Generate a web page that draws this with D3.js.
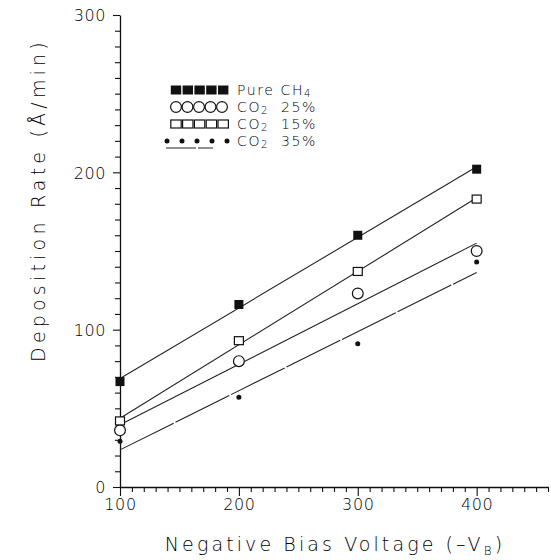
<!DOCTYPE html>
<html>
<head>
<meta charset="utf-8">
<script src="https://cdn.jsdelivr.net/npm/d3@7"></script>
<style>
  html, body { margin: 0; padding: 0; background: #fff; }
  svg { display: block; }
  text { font-family: "DejaVu Sans", sans-serif; font-weight: 200; fill: #000; }
</style>
</head>
<body>
<svg id="chart" width="551" height="560"></svg>
<script>
// Bias voltage (-V_B) at which each film was deposited
const voltage = [100, 200, 300, 400];

// Deposition rate (Å/min) per gas mixture
const pureCH4 = [67, 116, 160, 202];
const co2_25  = [36, 80, 123, 150];
const co2_15  = [42, 93, 137, 183];
const co2_35  = [29, 57, 91, 143];

// Axis ticks
const yMajor = [0, 100, 200, 300];
const xMajor = [100, 200, 300, 400];

// Legend entries (label, subscript, suffix)
const legendLabels = [
  { main: "Pure  CH", sub: "4", rest: "" },
  { main: "CO", sub: "2", rest: "  25%" },
  { main: "CO", sub: "2", rest: "  15%" },
  { main: "CO", sub: "2", rest: "  35%" }
];

const svg = d3.select("#chart");
const x = d3.scaleLinear().domain([100, 460]).range([120, 548]);
const y = d3.scaleLinear().domain([0, 300]).range([487, 15]);

const ink = "#111";

// ---- Y axis ----
const yAxis = d3.axisLeft(y)
  .tickValues(d3.range(0, 301, 10))
  .tickSize(5)
  .tickSizeOuter(0)
  .tickFormat(d => yMajor.includes(d) ? d : "");
const gy = svg.append("g").attr("transform", `translate(${x(100)},0)`).call(yAxis);
gy.select(".domain").attr("stroke", ink).attr("stroke-width", 1.3);
gy.selectAll(".tick line").attr("stroke", ink).attr("stroke-width", 1.1)
  .attr("x2", d => yMajor.includes(d) ? -7 : -5);
gy.selectAll(".tick text").attr("x", -14).attr("dy", "0.36em")
  .style("font-size", "16px").attr("letter-spacing", "0.6");

// ---- X axis ----
const xAxis = d3.axisBottom(x)
  .tickValues(d3.range(100, 461, 10))
  .tickSize(5)
  .tickSizeOuter(0)
  .tickFormat(d => xMajor.includes(d) ? d : "");
const gx = svg.append("g").attr("transform", `translate(0,${y(0)})`).call(xAxis);
gx.select(".domain").attr("stroke", ink).attr("stroke-width", 1.3);
gx.selectAll(".tick line").attr("stroke", ink).attr("stroke-width", 1.1)
  .attr("y2", d => xMajor.includes(d) ? 9 : 5);
gx.selectAll(".tick text").attr("y", 12).attr("dy", "0.71em")
  .style("font-size", "16px").attr("letter-spacing", "0.6");

// ---- Axis titles ----
const xt = svg.append("text")
  .attr("x", 335).attr("y", 551)
  .attr("text-anchor", "middle")
  .style("font-size", "19px").attr("letter-spacing", "3.1");
xt.append("tspan").text("Negative Bias Voltage (\u2013V");
xt.append("tspan").attr("dy", 4).style("font-size", "12px").text("B");
xt.append("tspan").attr("dy", -4).text(")");

svg.append("text")
  .attr("transform", "translate(45,200) rotate(-90)")
  .attr("text-anchor", "middle")
  .style("font-size", "19px").attr("letter-spacing", "4.2")
  .text("Deposition Rate (\u00C5/min)");

// ---- Fitted lines (least squares through each series) ----
function fit(xs, ys) {
  const mx = d3.mean(xs), my = d3.mean(ys);
  const b = d3.sum(xs, (v, i) => (v - mx) * (ys[i] - my)) / d3.sum(xs, v => (v - mx) ** 2);
  const a = my - b * mx;
  return v => a + b * v;
}

const series = [
  { vals: pureCH4, marker: "fsq",  dash: null },
  { vals: co2_25,  marker: "circ", dash: null },
  { vals: co2_15,  marker: "osq",  dash: null },
  { vals: co2_35,  marker: "dot",  dash: "60,2" }
];

const lineGen = d3.line().x(d => x(d[0])).y(d => y(d[1]));
series.forEach(s => {
  const f = fit(voltage, s.vals);
  const ends = d3.extent(voltage).map(v => [v, f(v)]);
  svg.append("path").attr("d", lineGen(ends))
    .attr("fill", "none").attr("stroke", "#222").attr("stroke-width", 1.1)
    .attr("stroke-dasharray", s.dash);
});

// ---- Markers ----
function drawMarker(g, type, cx, cy, w) {
  if (type === "fsq") {
    const s = w || 9;
    g.append("rect").attr("x", cx - s / 2).attr("y", cy - 4.5).attr("width", s).attr("height", 9)
      .attr("fill", ink);
  } else if (type === "osq") {
    const s = w || 9;
    g.append("rect").attr("x", cx - s / 2).attr("y", cy - 4).attr("width", s).attr("height", 8)
      .attr("fill", "#fff").attr("stroke", ink).attr("stroke-width", 1.2);
  } else if (type === "circ") {
    g.append("circle").attr("cx", cx).attr("cy", cy).attr("r", 5.4)
      .attr("fill", "#fff").attr("stroke", ink).attr("stroke-width", 1.2);
  } else {
    g.append("circle").attr("cx", cx).attr("cy", cy).attr("r", 2.5).attr("fill", ink);
  }
}

const gm = svg.append("g");
series.forEach(s => {
  s.vals.forEach((v, i) => drawMarker(gm, s.marker, x(voltage[i]), y(v)));
});

// ---- Legend ----
const lg = svg.append("g");
const rowY = [90, 107, 124, 141];
series.forEach((s, r) => {
  const cy = rowY[r];
  if (s.marker === "dot") {
    for (let k = 0; k < 5; k++) drawMarker(lg, "dot", 167 + k * 15, cy);
    lg.append("line").attr("x1", 166).attr("x2", 213).attr("y1", cy + 7).attr("y2", cy + 7)
      .attr("stroke", "#222").attr("stroke-width", 1).attr("stroke-dasharray", "30,2");
  } else if (s.marker === "circ") {
    for (let k = 0; k < 5; k++) drawMarker(lg, s.marker, 176 + k * 11.5, cy);
  } else {
    for (let k = 0; k < 5; k++) drawMarker(lg, s.marker, 176 + k * 11.8, cy, 10.4);
  }
  const lbl = legendLabels[r];
  const t = lg.append("text").attr("x", 237).attr("y", cy + 5)
    .style("font-size", "14px").attr("letter-spacing", "1.6");
  t.append("tspan").text(lbl.main);
  t.append("tspan").attr("dy", 1.5).style("font-size", "10px").text(lbl.sub);
  if (lbl.rest) t.append("tspan").attr("dy", -1.5).style("white-space", "pre").text(lbl.rest);
});
</script>
</body>
</html>
